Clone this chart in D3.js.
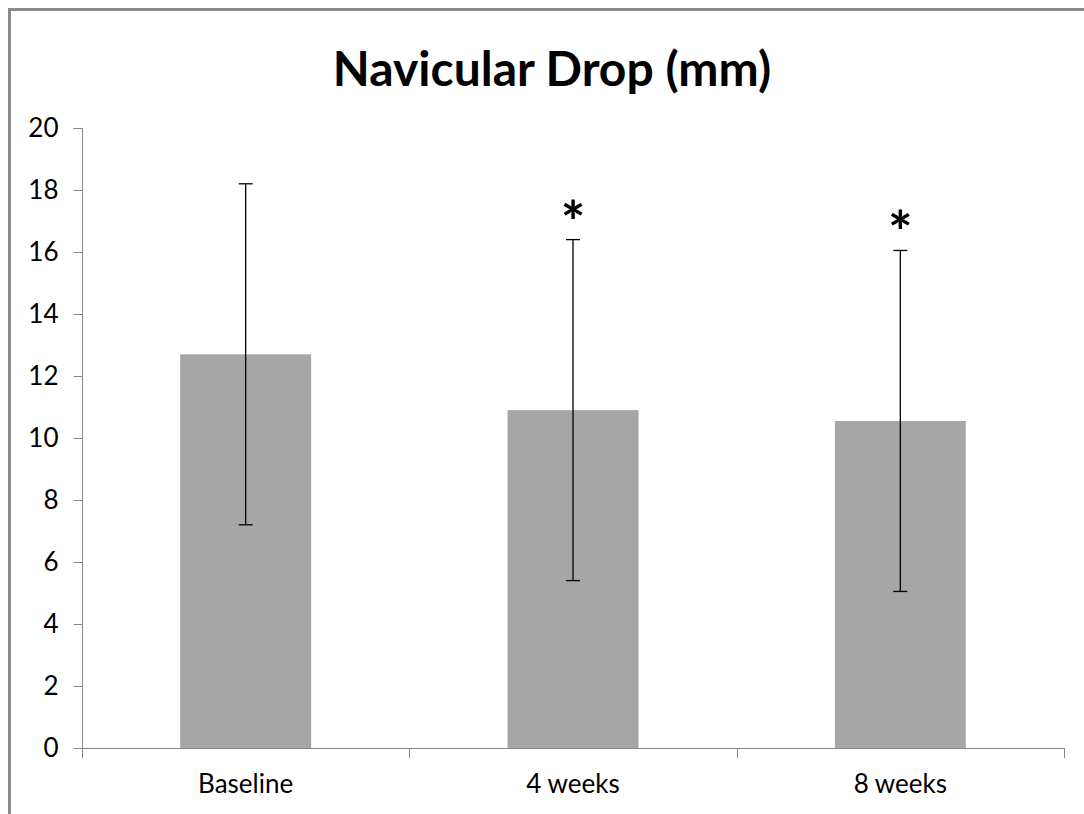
<!DOCTYPE html>
<html>
<head>
<meta charset="utf-8">
<script src="https://cdn.jsdelivr.net/npm/d3@7"></script>
<style>
	body { margin: 0; background: #fff; }
	svg text { font-family: Lato, "Noto Sans", sans-serif; fill: #000; }
</style>
</head>
<body>
<div id="vis"></div>
<script>
const categories = ["Baseline", "4 weeks", "8 weeks"];
const means = [12.7, 10.9, 10.55];
const errHigh = [18.2, 16.4, 16.05];
const errLow = [7.2, 5.4, 5.05];
const significant = [false, true, true];
const yTicks = [0, 2, 4, 6, 8, 10, 12, 14, 16, 18, 20];

const W = 1084;
const H = 814;

const svg = d3.select("#vis").append("svg")
	.attr("width", W)
	.attr("height", H);

// outer frame, runs off the right and bottom edges
svg.append("rect")
	.attr("x", 9.5)
	.attr("y", 9.5)
	.attr("width", W + 20)
	.attr("height", H + 20)
	.attr("fill", "none")
	.attr("stroke", "#8a8a8a")
	.attr("stroke-width", 3);

svg.append("text")
	.attr("x", 552)
	.attr("y", 86)
	.attr("text-anchor", "middle")
	.attr("font-weight", "bold")
	.attr("font-size", 48)
	.text("Navicular Drop (mm)");

const x = d3.scaleBand()
	.domain(categories)
	.range([82, 1064])
	.paddingInner(0.6)
	.paddingOuter(0.3);

const y = d3.scaleLinear()
	.domain([0, 20])
	.range([748, 128]);

// bars
svg.append("g").selectAll("rect")
	.data(categories)
	.join("rect")
	.attr("x", d => x(d))
	.attr("y", (d, i) => y(means[i]))
	.attr("width", x.bandwidth())
	.attr("height", (d, i) => y(0) - y(means[i]))
	.attr("fill", "#a6a6a6");

// y axis
const yAxis = svg.append("g")
	.attr("transform", "translate(82.5,0)")
	.call(d3.axisLeft(y).tickValues(yTicks).tickSize(9).tickPadding(15));
yAxis.select(".domain").attr("stroke", "#868686").attr("d", "M-9,128.5H0V758");
yAxis.selectAll(".tick line").attr("stroke", "#868686");
yAxis.selectAll(".tick text")
	.attr("font-size", 26)
	.attr("font-family", "Lato, sans-serif")
	.attr("fill", "#000");

// x axis with ticks at category boundaries
const bounds = d3.range(categories.length + 1).map(i => 82 + i * (1064 - 82) / categories.length);
const xg = svg.append("g");
xg.append("line")
	.attr("x1", 82).attr("x2", 1064)
	.attr("y1", 748.5).attr("y2", 748.5)
	.attr("stroke", "#868686");
xg.selectAll(".btick")
	.data(bounds)
	.join("line")
	.attr("class", "btick")
	.attr("x1", d => Math.round(d) + 0.5).attr("x2", d => Math.round(d) + 0.5)
	.attr("y1", 748).attr("y2", 758)
	.attr("stroke", "#868686");
xg.selectAll("text")
	.data(categories)
	.join("text")
	.attr("x", d => x(d) + x.bandwidth() / 2)
	.attr("y", 793)
	.attr("text-anchor", "middle")
	.attr("font-size", 26)
	.text(d => d);

// error bars
const eg = svg.append("g").attr("stroke", "#000").attr("stroke-width", 1.3);
categories.forEach((c, i) => {
	const cx = x(c) + x.bandwidth() / 2;
	eg.append("line")
		.attr("x1", cx).attr("x2", cx)
		.attr("y1", y(errHigh[i])).attr("y2", y(errLow[i]));
	eg.append("line")
		.attr("x1", cx - 7).attr("x2", cx + 7)
		.attr("y1", y(errHigh[i])).attr("y2", y(errHigh[i]));
	eg.append("line")
		.attr("x1", cx - 7).attr("x2", cx + 7)
		.attr("y1", y(errLow[i])).attr("y2", y(errLow[i]));
});

// significance marks
svg.append("g").selectAll("text")
	.data(categories.filter((c, i) => significant[i]))
	.join("text")
	.attr("x", d => x(d) + x.bandwidth() / 2)
	.attr("y", d => y(errHigh[categories.indexOf(d)]) + 3)
	.attr("text-anchor", "middle")
	.attr("font-weight", "bold")
	.attr("font-size", 58)
	.text("*");
</script>
</body>
</html>
